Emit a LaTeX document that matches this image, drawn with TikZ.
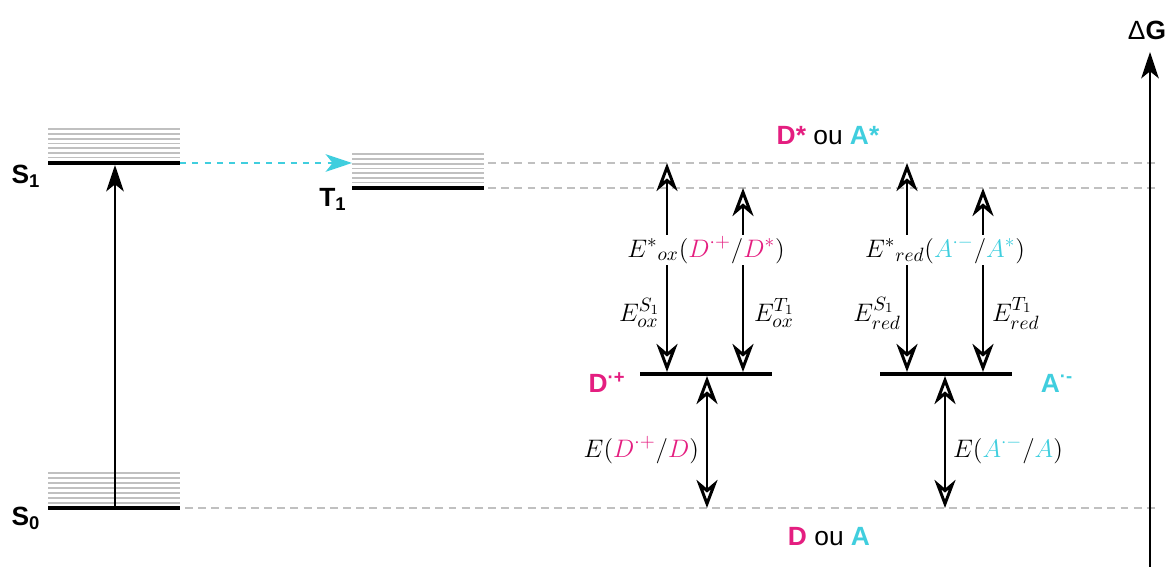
\documentclass[tikz,border=0pt]{standalone}
\usepackage{fontspec}
\newfontfamily\labfont{Liberation Sans}
\usetikzlibrary{arrows.meta, positioning, calc}
\definecolor{mpink}{RGB}{228,30,128}
\definecolor{mcyan}{RGB}{64,206,222}
\definecolor{lgray}{RGB}{192,192,192}

\begin{document}
\begin{tikzpicture}[x=0.02cm,y=-0.02cm,
  fhead/.tip={Stealth[length=15pt,width=10pt,inset=4pt]},
  ohead/.tip={Stealth[open,fill=white,length=16pt,width=12pt,inset=5pt]},
  level/.style={line width=2.2pt},
  vib/.style={lgray,line width=1pt},
  guide/.style={lgray,line width=1pt,dash pattern=on 4.5pt off 3pt},
  arr/.style={-fhead,line width=1.6pt},
  oarr/.style={-ohead,line width=1.7pt},
  darr/.style={ohead-ohead,line width=1.7pt},
  isc/.style={-fhead,mcyan,line width=1.5pt,dash pattern=on 3.5pt off 3.5pt},
  lab/.style={font=\labfont\fontsize{15}{17}\selectfont\bfseries,inner sep=1pt},
  pot/.style={font=\fontsize{15.5}{17}\selectfont,inner sep=1pt}
]
\useasboundingbox (0,0) rectangle (1171,570);

% niveaux d'energie
\coordinate (s1l) at (48,163);  \coordinate (s1r) at (180,163);
\coordinate (t1l) at (352,188); \coordinate (t1r) at (484,188);
\coordinate (s0l) at (48,508);  \coordinate (s0r) at (180,508);
\coordinate (dcl) at (640,374); \coordinate (dcr) at (772,374);
\coordinate (acl) at (880,374); \coordinate (acr) at (1012,374);
\foreach \k in {0,...,6} {
  \draw[vib] (48,129.3+4.7*\k) -- (180,129.3+4.7*\k);
  \draw[vib] (352,154.3+4.7*\k) -- (484,154.3+4.7*\k);
  \draw[vib] (48,473.3+4.9*\k) -- (180,473.3+4.9*\k);
}
\draw[guide] (488,163) -- (1155,163);
\draw[guide] (488,188) -- (1155,188);
\draw[guide] (185,508) -- (1155,508);
\draw[level] (s1l) -- (s1r);
\draw[level] (t1l) -- (t1r);
\draw[level] (s0l) -- (s0r);
\draw[level] (dcl) -- (dcr);
\draw[level] (acl) -- (acr);

\node[lab] (S1) at (26,176) {S\textsubscript{1}};
\node[lab] (T1) at (333,199) {T\textsubscript{1}};
\node[lab] (S0) at (26,518) {S\textsubscript{0}};
\node[lab,mpink] (Dc) at (607,383) {D\textsuperscript{·+}};
\node[lab,mcyan] (Ac) at (1057,383) {A\textsuperscript{·-}};
\node[lab] (exc) at (828,136) {{\color{mpink}D*} {\mdseries ou} {\color{mcyan}A*}};
\node[lab] (gnd) at (829,537) {{\color{mpink}D} {\mdseries ou} {\color{mcyan}A}};
\node[lab] (dG) at (1147,30) {{\mdseries Δ}G};

% absorption et CIS
\coordinate (s0m) at (115,508); \coordinate (s1m) at (115,165);
\draw[arr] (s0m) -- (s1m);
\draw[isc] (s1r) -- (t1l |- s1r);
\coordinate (gb) at (1150,567); \coordinate (gt) at (1150,52);
\draw[arr] (gb) -- (gt);

% potentiels du donneur
\coordinate (dS) at (667,163); \coordinate (dT) at (743,188); \coordinate (dG) at (707,508);
\node[pot] (eox) at (706,250) {$E^{*}{}_{ox}(\textcolor{mpink}{D^{\cdot+}}/\textcolor{mpink}{D^{*}})$};
\draw[oarr] (eox.north -| dS) -- (dS);
\draw[oarr] (eox.north -| dT) -- (dT);
\draw[oarr] (eox.south -| dS) -- ($(dS |- dcl)+(0,-2)$);
\draw[oarr] (eox.south -| dT) -- ($(dT |- dcl)+(0,-2)$);
\draw[darr] ($(dG |- dcl)+(0,2)$) -- (dG);
\node[pot,anchor=east] (eoxS) at (662,313) {$E_{ox}^{S_1}$};
\node[pot,anchor=west] (eoxT) at (752,313) {$E_{ox}^{T_1}$};
\node[pot,anchor=east] (eD) at (701,450) {$E(\textcolor{mpink}{D^{\cdot+}}/\textcolor{mpink}{D})$};

% potentiels de l'accepteur
\coordinate (aS) at (907,163); \coordinate (aT) at (983,188); \coordinate (aG) at (945,508);
\node[pot] (ered) at (945,250) {$E^{*}{}_{red}(\textcolor{mcyan}{A^{\cdot-}}/\textcolor{mcyan}{A^{*}})$};
\draw[oarr] (ered.north -| aS) -- (aS);
\draw[oarr] (ered.north -| aT) -- (aT);
\draw[oarr] (ered.south -| aS) -- ($(aS |- acl)+(0,-2)$);
\draw[oarr] (ered.south -| aT) -- ($(aT |- acl)+(0,-2)$);
\draw[darr] ($(aG |- acl)+(0,2)$) -- (aG);
\node[pot,anchor=east] (eredS) at (903,313) {$E_{red}^{S_1}$};
\node[pot,anchor=west] (eredT) at (990,313) {$E_{red}^{T_1}$};
\node[pot,anchor=west] (eA) at (951,450) {$E(\textcolor{mcyan}{A^{\cdot-}}/\textcolor{mcyan}{A})$};
\end{tikzpicture}
\end{document}
